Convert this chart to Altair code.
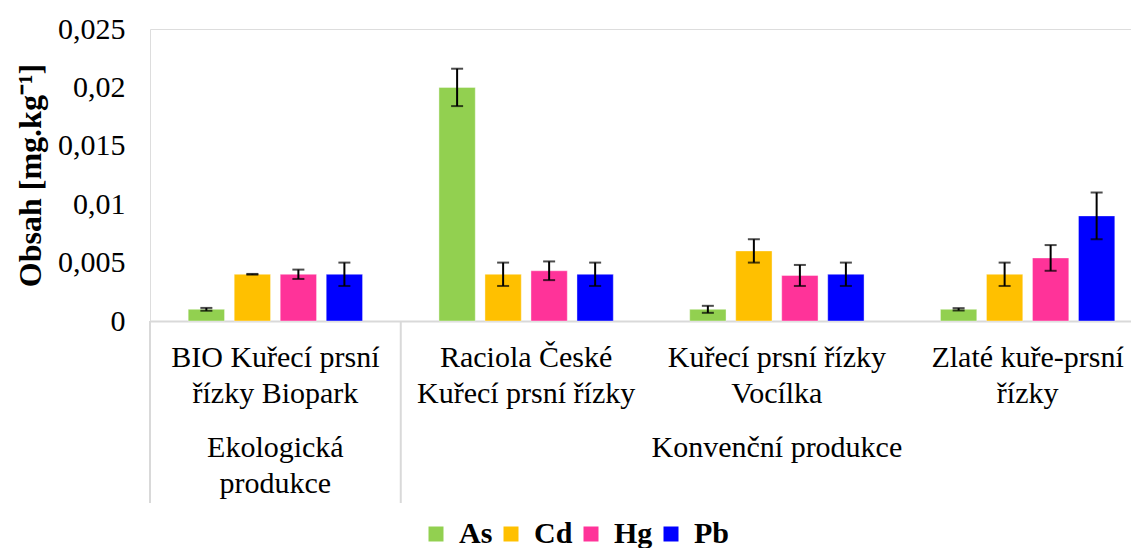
import altair as alt
import pandas as pd

categories = [
    "BIO Kuřecí prsní řízky Biopark",
    "Raciola České Kuřecí prsní řízky",
    "Kuřecí prsní řízky Vocílka",
    "Zlaté kuře-prsní řízky",
]
label_line1 = ["BIO Kuřecí prsní", "Raciola České", "Kuřecí prsní řízky", "Zlaté kuře-prsní"]
label_line2 = ["řízky Biopark", "Kuřecí prsní řízky", "Vocílka", "řízky"]
group_line1 = ["Ekologická", "Konvenční produkce"]
group_line2 = ["produkce", ""]
group_anchor = [categories[0], categories[2]]
metals = ["As", "Cd", "Hg", "Pb"]
colors = ["#92D050", "#FFC000", "#FF3399", "#0000FF"]

values = {
    "As": [0.001, 0.020, 0.001, 0.001],
    "Cd": [0.004, 0.004, 0.006, 0.004],
    "Hg": [0.004, 0.0043, 0.0039, 0.0054],
    "Pb": [0.004, 0.004, 0.004, 0.009],
}
errors = {
    "As": [0.00012, 0.0016, 0.0003, 0.0001],
    "Cd": [0.00003, 0.001, 0.001, 0.001],
    "Hg": [0.0004, 0.0008, 0.0009, 0.0011],
    "Pb": [0.001, 0.001, 0.001, 0.002],
}
y_ticks = [0, 0.005, 0.01, 0.015, 0.02, 0.025]

rows = []
for m in metals:
    for i, c in enumerate(categories):
        v = values[m][i]
        e = errors[m][i]
        rows.append({"cat": c, "metal": m, "value": v, "lo": v - e, "hi": v + e})
df = pd.DataFrame(rows)
ldf = pd.DataFrame({"cat": categories, "l1": label_line1, "l2": label_line2})
gdf = pd.DataFrame({"cat": group_anchor, "g1": group_line1, "g2": group_line2})
sep = pd.DataFrame({"cat": [categories[0]]})

FONT = "Liberation Serif"
PLOT_W = 981
PLOT_H = 292

xscale = alt.Scale(domain=categories, range=[0, 1003], paddingInner=0, paddingOuter=0)
x_enc = alt.X(
    "cat:N",
    sort=categories,
    scale=xscale,
    axis=alt.Axis(
        title=None,
        labels=False,
        ticks=False,
        domainColor="#d9d9d9",
        domainWidth=2,
    ),
)
xoff = alt.XOffset(
    "metal:N", sort=metals, scale=alt.Scale(paddingInner=0.21, paddingOuter=0.83)
)
yscale = alt.Scale(domain=[0, 0.025], nice=False, zero=True)
y_enc = alt.Y(
    "value:Q",
    scale=yscale,
    axis=alt.Axis(
        title="Obsah [mg.kg⁻¹]",
        titleFont=FONT,
        titleFontSize=32,
        titleFontWeight="bold",
        titleColor="#000000",
        titlePadding=10,
        values=y_ticks,
        labelExpr="replace(toString(datum.value), '.', ',')",
        labelFont=FONT,
        labelFontSize=30,
        labelColor="#000000",
        labelPadding=25,
        ticks=False,
        domain=False,
        grid=False,
    ),
)

bars = alt.Chart(df).mark_bar(stroke="white", strokeOpacity=0.4, strokeWidth=1).encode(
    x=x_enc,
    xOffset=xoff,
    y=y_enc,
    color=alt.Color(
        "metal:N",
        sort=metals,
        scale=alt.Scale(domain=metals, range=colors),
        legend=alt.Legend(
            title=None,
            orient="none",
            direction="horizontal",
            legendX=271,
            legendY=490,
            symbolType="square",
            symbolSize=225,
            symbolStrokeWidth=0,
            symbolOpacity=1,
            labelFont=FONT,
            labelFontSize=30,
            labelFontWeight="bold",
            labelColor="#000000",
            labelOffset=8,
            columnPadding=3,
        ),
    ),
)

err = alt.Chart(df).mark_rule(color="black", strokeWidth=2).encode(
    x=alt.X("cat:N", sort=categories),
    xOffset=alt.XOffset("metal:N", sort=metals),
    y=alt.Y("lo:Q"),
    y2="hi:Q",
)
cap_lo = alt.Chart(df).mark_tick(color="black", size=12, thickness=2, orient="horizontal").encode(
    x=alt.X("cat:N", sort=categories),
    xOffset=alt.XOffset("metal:N", sort=metals),
    y=alt.Y("lo:Q"),
)
cap_hi = alt.Chart(df).mark_tick(color="black", size=12, thickness=2, orient="horizontal").encode(
    x=alt.X("cat:N", sort=categories),
    xOffset=alt.XOffset("metal:N", sort=metals),
    y=alt.Y("hi:Q"),
)

sep_left = alt.Chart(sep).mark_rule(color="#d9d9d9", strokeWidth=2).encode(
    x=alt.X("cat:N", sort=categories, bandPosition=0),
    y=alt.value(PLOT_H),
    y2=alt.value(474),
)
sep_mid = alt.Chart(sep).mark_rule(color="#d9d9d9", strokeWidth=2).encode(
    x=alt.X("cat:N", sort=categories, bandPosition=1),
    y=alt.value(PLOT_H),
    y2=alt.value(474),
)


def text_layer(data, field, ypix):
    return alt.Chart(data).mark_text(
        font=FONT, fontSize=30, color="black", align="center", baseline="middle",
    ).encode(
        x=alt.X("cat:N", sort=categories),
        y=alt.value(ypix),
        text=f"{field}:N",
    )


t1 = text_layer(ldf, "l1", 329)
t2 = text_layer(ldf, "l2", 365)
t3 = text_layer(gdf, "g1", 419)
t4 = text_layer(gdf, "g2", 455)

chart = alt.layer(bars, err, cap_lo, cap_hi, sep_left, sep_mid, t1, t2, t3, t4).properties(
    width=PLOT_W,
    height=PLOT_H,
    autosize=alt.AutoSizeParams(type="none"),
    padding={"left": 142, "top": 21, "right": 0, "bottom": 227},
).configure_view(stroke=None).configure(background="white")

chart.save("out.html", embed_options={"renderer": "svg", "actions": False})
